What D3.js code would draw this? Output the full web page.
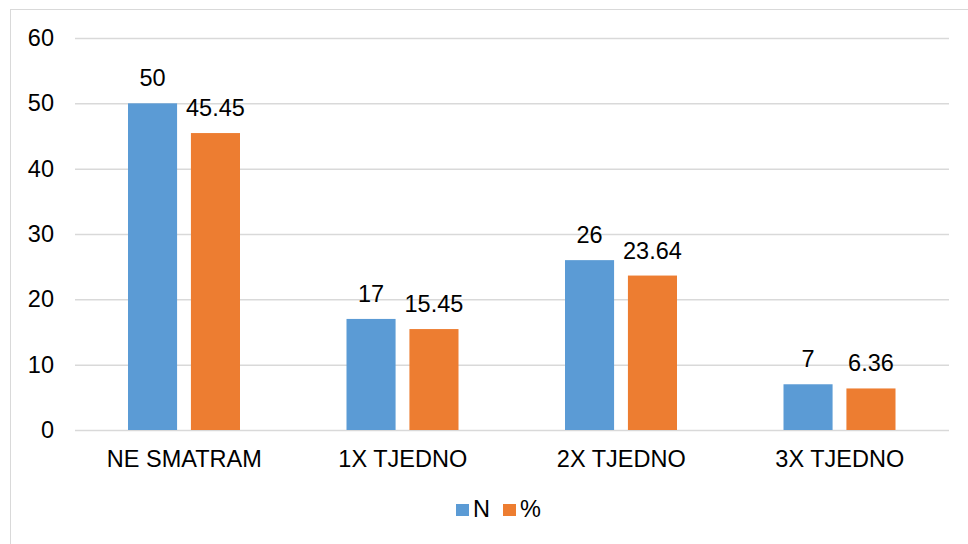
<!DOCTYPE html>
<html>
<head>
<meta charset="utf-8">
<script src="https://cdn.jsdelivr.net/npm/d3@7"></script>
<style>
  body { margin: 0; background: #fff; }
  svg { display: block; font-family: "Liberation Sans", Arial, sans-serif; }
</style>
</head>
<body>
<svg id="chart" width="968" height="544"></svg>
<script>
const categories = ["NE SMATRAM", "1X TJEDNO", "2X TJEDNO", "3X TJEDNO"];
const seriesN = [50, 17, 26, 7];
const seriesPct = [45.45, 15.45, 23.64, 6.36];
const labelsN = ["50", "17", "26", "7"];
const labelsPct = ["45.45", "15.45", "23.64", "6.36"];
const yTicks = [0, 10, 20, 30, 40, 50, 60];
const seriesNames = ["N", "%"];
const colors = ["#5b9bd5", "#ed7d31"];

const svg = d3.select("#chart");
const plotLeft = 75, plotRight = 949, plotTop = 38, plotBottom = 430;
const fontSize = 23.5;

// outer frame
svg.append("rect").attr("x", 10.5).attr("y", 9.5).attr("width", 970).attr("height", 560)
  .attr("fill", "none").attr("stroke", "#d9d9d9");

const x = d3.scaleBand().domain(categories).range([plotLeft, plotRight]);
const x1 = d3.scaleBand().domain([0, 1]).range([53, 165]).paddingInner(0.22);
const y = d3.scaleLinear().domain([0, 60]).range([plotBottom, plotTop]);

// gridlines + y labels
const yAxis = svg.append("g").attr("transform", `translate(${plotLeft},0)`)
  .call(d3.axisLeft(y).tickValues(yTicks).tickSize(-(plotRight - plotLeft)).tickPadding(21));
yAxis.select(".domain").remove();
yAxis.selectAll(".tick line").attr("stroke", "#d9d9d9").attr("stroke-width", 1.5);
yAxis.selectAll(".tick text").attr("font-size", fontSize).attr("fill", "#000")
  .attr("font-family", "Liberation Sans, Arial, sans-serif");

// x labels
const xAxis = svg.append("g").attr("transform", `translate(0,${plotBottom})`)
  .call(d3.axisBottom(x).tickSize(0).tickPadding(20));
xAxis.select(".domain").remove();
xAxis.selectAll(".tick text").attr("font-size", fontSize).attr("fill", "#000")
  .attr("font-family", "Liberation Sans, Arial, sans-serif");

const series = [seriesN, seriesPct];
const labels = [labelsN, labelsPct];
series.forEach((vals, s) => {
  const g = svg.append("g");
  g.selectAll("rect").data(vals).join("rect")
    .attr("x", (d, i) => x(categories[i]) + x1(s))
    .attr("y", d => y(d))
    .attr("width", x1.bandwidth())
    .attr("height", d => y(0) - y(d))
    .attr("fill", colors[s]);
  g.selectAll("text").data(vals).join("text")
    .attr("x", (d, i) => x(categories[i]) + x1(s) + x1.bandwidth() / 2)
    .attr("y", d => y(d) - 17)
    .attr("text-anchor", "middle")
    .attr("font-size", fontSize)
    .attr("fill", "#000")
    .text((d, i) => labels[s][i]);
});

// legend
const legend = svg.append("g");
const legendX = [456, 503];
seriesNames.forEach((name, i) => {
  legend.append("rect").attr("x", legendX[i]).attr("y", 504).attr("width", 13).attr("height", 12).attr("fill", colors[i]);
  legend.append("text").attr("x", legendX[i] + 17).attr("y", 517).attr("font-size", fontSize).attr("fill", "#000").text(name);
});
</script>
</body>
</html>
